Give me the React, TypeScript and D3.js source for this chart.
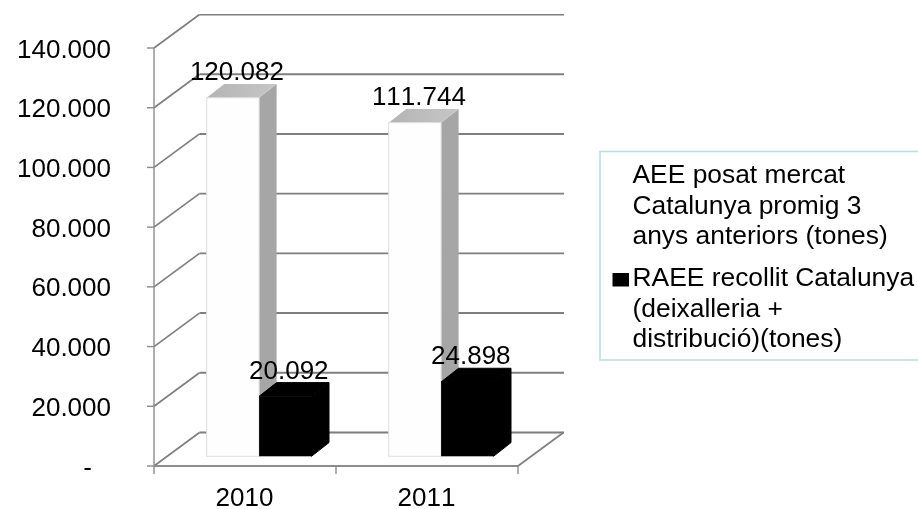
import React from "react";
import * as d3 from "d3";

const categories = ["2010", "2011"];
const aeeValues = [120082, 111744];
const raeeValues = [20092, 24898];
const aeeLabels = ["120.082", "111.744"];
const raeeLabels = ["20.092", "24.898"];
const yTicks = [0, 20000, 40000, 60000, 80000, 100000, 120000, 140000];
const yTickLabels = ["-", "20.000", "40.000", "60.000", "80.000", "100.000", "120.000", "140.000"];
const legendLines1 = ["AEE posat mercat", "Catalunya promig 3", "anys anteriors (tones)"];
const legendLines2 = ["RAEE recollit Catalunya", "(deixalleria +", "distribució)(tones)"];

const FONT = "'Liberation Sans', Arial, sans-serif";
const FS = 26;
const LEG_FS = 26.4;
const GRID = "#7f7f7f";
const AXIS = "#8c8c8c";

const yFront = d3.scaleLinear().domain([0, 140000]).range([466, 48]);
const xFront = d3.scaleBand().domain(categories).range([154, 518]);
const wallDx = 45.5;
const wallDy = -33.5;
const barBaseShift = -9.7;
const barOffsetX = 52.7;
const barW = 52.4;
const depthX = 17.5;
const depthY = -13.7;

function poly(pts: [number, number][]) {
  return pts.map((p) => p.join(",")).join(" ");
}

function Bar({ x, v, front, side, top, stroke, faceStroke }: { x: number; v: number; front: string; side: string; top: string; stroke?: string; faceStroke?: string }) {
  const y0 = yFront(0) + barBaseShift;
  const y1 = yFront(v) + barBaseShift;
  const fs = faceStroke ?? "none";
  return (
    <g>
      <polygon points={poly([[x + barW, y0], [x + barW + depthX, y0 + depthY], [x + barW + depthX, y1 + depthY], [x + barW, y1]])} fill={side} stroke={fs} />
      <polygon points={poly([[x, y1], [x + depthX, y1 + depthY], [x + barW + depthX, y1 + depthY], [x + barW, y1]])} fill={top} stroke={fs} />
      <rect x={x} y={y1} width={barW} height={y0 - y1} fill={front} stroke={stroke ?? "none"} strokeWidth={1} />
    </g>
  );
}

export default function App() {
  const axisRight = xFront.range()[1];
  const axisLeft = xFront.range()[0];
  const step = xFront.step();
  const textProps = { fontFamily: FONT, fontSize: FS, fill: "#000", style: { fontKerning: "none" as const } };
  return (
    <svg width={918} height={509} style={{ position: "absolute", left: 0, top: 0, background: "#fff" }}>
      <defs>
        <filter id="soft" x="0" y="0" width="100%" height="100%">
          <feGaussianBlur stdDeviation="0.45" />
        </filter>
        <linearGradient id="topFace" x1="0" x2="1" y1="0" y2="0">
          <stop offset="0" stopColor="#b4b4b4" />
          <stop offset="1" stopColor="#c6c6c6" />
        </linearGradient>
      </defs>
      <g filter="url(#soft)">
        {yTicks.map((t, ti) => (
          <g key={t}>
            <line x1={axisLeft + wallDx} x2={axisRight + wallDx + 0.5} y1={yFront(t) + wallDy} y2={yFront(t) + wallDy} stroke={GRID} strokeWidth={1.9} />
            <line x1={axisLeft} x2={axisLeft + wallDx} y1={yFront(t)} y2={yFront(t) + wallDy} stroke={GRID} strokeWidth={1.7} />
            <line x1={axisLeft - 7} x2={axisLeft} y1={yFront(t)} y2={yFront(t)} stroke={AXIS} strokeWidth={1.4} />
            <text x={t === 0 ? 92 : 111} y={yFront(t) + 9.5} textAnchor="end" {...textProps}>
              {yTickLabels[ti]}
            </text>
          </g>
        ))}
        <line x1={axisLeft} x2={axisLeft} y1={yFront(140000)} y2={yFront(0)} stroke={AXIS} strokeWidth={1.4} />
        <line x1={axisLeft} x2={axisRight} y1={yFront(0)} y2={yFront(0)} stroke={AXIS} strokeWidth={1.8} />
        <line x1={axisRight} x2={axisRight + wallDx} y1={yFront(0)} y2={yFront(0) + wallDy} stroke={GRID} strokeWidth={1.7} />
        {[0, 1, 2].map((i) => (
          <line key={i} x1={axisLeft + i * step} x2={axisLeft + i * step} y1={yFront(0)} y2={yFront(0) + 8} stroke={AXIS} strokeWidth={1.4} />
        ))}
        {categories.map((c, i) => {
          const x0 = (xFront(c) as number) + barOffsetX;
          return (
            <g key={c}>
              <Bar x={x0} v={aeeValues[i]} front="#fefefe" side="#a6a6a6" top="url(#topFace)" stroke="#dedede" />
              <Bar x={x0 + barW} v={raeeValues[i]} front="#000" side="#000" top="#000" faceStroke="#000" />
            </g>
          );
        })}
        {categories.map((c, i) => {
          const x0 = (xFront(c) as number) + barOffsetX;
          return (
            <g key={c}>
              <text x={x0 + barW / 2 + 4} y={yFront(aeeValues[i]) + barBaseShift - 17.5} textAnchor="middle" {...textProps}>{aeeLabels[i]}</text>
              <text x={x0 + barW * 1.5 + 3.5} y={yFront(raeeValues[i]) + barBaseShift - 17.5} textAnchor="middle" {...textProps}>{raeeLabels[i]}</text>
              <text x={(xFront(c) as number) + xFront.bandwidth() / 2 - 0.5} y={505.5} textAnchor="middle" {...textProps}>{c}</text>
            </g>
          );
        })}
        <rect x={600} y={151.5} width={330} height={208.5} fill="#fff" stroke="#b9dfe2" strokeWidth={1.6} />
        {legendLines1.map((l, i) => (
          <text key={l} x={632.5} y={182.8 + i * 30.8} {...textProps} fontSize={LEG_FS}>{l}</text>
        ))}
        <rect x={612.5} y={273} width={16.5} height={13.5} fill="#000" />
        {legendLines2.map((l, i) => (
          <text key={l} x={632.5} y={285.7 + i * 30.8} {...textProps} fontSize={LEG_FS}>{l}</text>
        ))}
      </g>
    </svg>
  );
}
